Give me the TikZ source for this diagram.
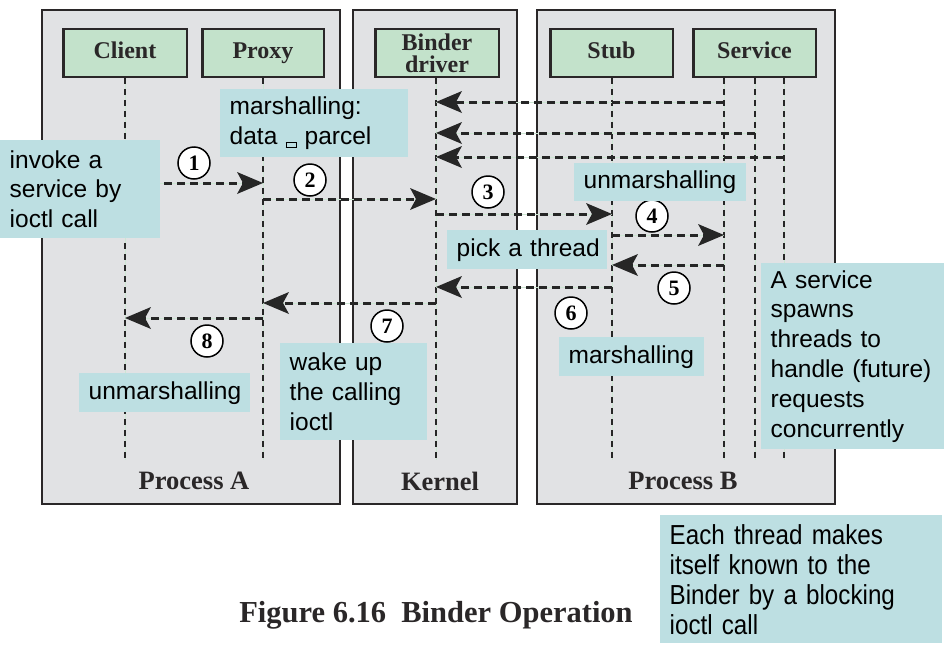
\documentclass[tikz,border=0pt]{standalone}
\usepackage{fontspec}
\setmainfont{Liberation Serif}
\newfontfamily\lblfont{Liberation Sans}
\newfontfamily\narrowfont[FakeStretch=0.88]{Liberation Sans}
\usetikzlibrary{arrows.meta}
\definecolor{panelgray}{HTML}{E1E2E4}
\definecolor{bordergray}{HTML}{2A2728}
\definecolor{headgreen}{HTML}{C3E2CB}
\definecolor{lblcyan}{HTML}{BDDFE2}
\definecolor{guidegreen}{HTML}{CDE6D3}
\begin{document}
\begin{tikzpicture}[x=1pt,y=-1pt,
  panel/.style={draw=bordergray, fill=panelgray, line width=2pt},
  head/.style={draw=bordergray, fill=headgreen, line width=2.5pt, minimum height=48pt,
    inner sep=0pt, align=center, text=bordergray, font=\bfseries\fontsize{24}{22}\selectfont},
  headone/.style={head, text height=16pt, text depth=5pt},
  life/.style={draw=black!85, line width=2.2pt, dash pattern=on 6pt off 5pt,
    preaction={draw=guidegreen, line width=1pt, solid}},
  msg/.style={draw=black!85, line width=3pt, dash pattern=on 8pt off 5pt,
    preaction={draw=guidegreen, line width=1pt, solid, arrows=-},
    -{Stealth[length=26pt,width=22pt,inset=6pt,line width=0pt]}},
  num/.style={circle, draw=black, fill=white, line width=1.5pt, minimum size=32pt,
    inner sep=0pt, font=\bfseries\fontsize{22}{22}\selectfont},
  lbl/.style={fill=lblcyan, inner xsep=9.5pt, inner ysep=0pt, align=left, anchor=north west,
    font=\lblfont\fontsize{24.5}{29.8}\selectfont},
  ptitle/.style={text=bordergray, font=\bfseries\fontsize{26.5}{26.5}\selectfont}
]
\useasboundingbox (0,0) rectangle (948,651);

% panels
\draw[panel] (42,10) rectangle (340,504);
\draw[panel] (353,10) rectangle (517,504);
\draw[panel] (537,10) rectangle (835,504);

% header boxes
\node[headone, minimum width=123.5pt] (client) at (125,53) {Client};
\node[headone, minimum width=121.5pt] (proxy) at (263,53) {Proxy};
\node[head, minimum width=123.5pt] (binder) at (437,53) {Binder\\driver};
\node[headone, minimum width=122.5pt] (stub) at (611.5,53) {Stub};
\node[headone, minimum width=122.5pt] (service) at (754.5,53) {Service};

% lifeline coordinates
\coordinate (clTop) at (125,78);   \coordinate (clEnd) at (125,460);
\coordinate (prTop) at (263,78);   \coordinate (prEnd) at (263,460);
\coordinate (biTop) at (436,78);   \coordinate (biEnd) at (436,460);
\coordinate (stTop) at (612,78);   \coordinate (stEnd) at (612,460);
\coordinate (s1Top) at (724,78);   \coordinate (s1End) at (724,460);
\coordinate (s2Top) at (755,78);   \coordinate (s2End) at (755,460);
\coordinate (s3Top) at (784,78);   \coordinate (s3End) at (784,460);

\draw[life] (clTop) -- (clEnd);
\draw[life] (prTop) -- (prEnd);
\draw[life] (biTop) -- (biEnd);
\draw[life] (stTop) -- (stEnd);
\draw[life] (s1Top) -- (s1End);
\draw[life] (s2Top) -- (s2End);
\draw[life] (s3Top) -- (s3End);

% message endpoints
\coordinate (r1a) at (724,102);  \coordinate (r1b) at (436,102);
\coordinate (r2a) at (755,133);  \coordinate (r2b) at (436,133);
\coordinate (r3a) at (784,157);  \coordinate (r3b) at (436,157);
\coordinate (m1a) at (125,183);  \coordinate (m1b) at (263,183);
\coordinate (m2a) at (263,199);  \coordinate (m2b) at (436,199);
\coordinate (m3a) at (436,214);  \coordinate (m3b) at (612,214);
\coordinate (m4a) at (612,235);  \coordinate (m4b) at (724,235);
\coordinate (m5a) at (724,265);  \coordinate (m5b) at (612,265);
\coordinate (m6a) at (612,287);  \coordinate (m6b) at (436,287);
\coordinate (m7a) at (436,303);  \coordinate (m7b) at (263,303);
\coordinate (m8a) at (263,318);  \coordinate (m8b) at (125,318);

\draw[msg] (r1a) -- (r1b);
\draw[msg] (r2a) -- (r2b);
\draw[msg] (r3a) -- (r3b);
\draw[msg] (m1a) -- (m1b);
\draw[msg] (m2a) -- (m2b);
\draw[msg] (m3a) -- (m3b);
\draw[msg] (m4a) -- (m4b);
\draw[msg] (m5a) -- (m5b);
\draw[msg] (m6a) -- (m6b);
\draw[msg] (m7a) -- (m7b);
\draw[msg] (m8a) -- (m8b);

% step numbers
\node[num] (n1) at (194,163) {1};
\node[num] (n2) at (310,180) {2};
\node[num] (n3) at (488,192) {3};
\node[num] (n4) at (652,216) {4};
\node[num] (n5) at (674,288) {5};
\node[num] (n6) at (571,313) {6};
\node[num] (n7) at (387,326) {7};
\node[num] (n8) at (207,341) {8};

% panel titles
\node[ptitle] (ta) at (194,481) {Process A};
\node[ptitle] (tk) at (440,481) {Kernel};
\node[ptitle] (tb) at (683,481) {Process B};

% caption
\node[text=bordergray, font=\bfseries\fontsize{30.5}{30.5}\selectfont] (cap) at (436,615) {Figure 6.16\ \ Binder Operation};

% cyan labels
\node[lbl, text width=141pt, minimum height=98pt] (lInvoke) at (0,140) {\mbox{invoke a}\\\mbox{service by}\\\mbox{ioctl call}};
\node[lbl, text width=169pt, minimum height=68pt] (lMarsh) at (220,89) {\mbox{marshalling:}\\\mbox{data \raisebox{-3pt}{\fboxsep0pt\fboxrule1pt\fbox{\rule{0pt}{4pt}\hspace{9pt}}} parcel}};
\node[lbl, text width=153pt, minimum height=38pt] (lUnm1) at (574,163) {\mbox{unmarshalling}};
\node[lbl, text width=141pt, minimum height=39pt] (lPick) at (447,230) {\mbox{pick a thread}};
\node[lbl, text width=164pt, minimum height=186pt] (lSpawn) at (761,263) {\mbox{A service}\\\mbox{spawns}\\\mbox{threads to}\\\mbox{handle (future)}\\\mbox{requests}\\\mbox{concurrently}};
\node[lbl, text width=126pt, minimum height=39pt] (lMarsh2) at (559,337) {\mbox{marshalling}};
\node[lbl, text width=128pt, minimum height=97pt] (lWake) at (280,343) {\mbox{wake up}\\\mbox{the calling}\\\mbox{ioctl}};
\node[lbl, text width=152pt, minimum height=39pt] (lUnm2) at (79,373) {\mbox{unmarshalling}};
\node[lbl, text width=263pt, minimum height=128pt, font=\narrowfont\fontsize{27.5}{30}\selectfont] (lEach) at (660,515) {\mbox{Each thread makes}\\\mbox{itself known to the}\\\mbox{Binder by a blocking}\\\mbox{ioctl call}};
\end{tikzpicture}
\end{document}
